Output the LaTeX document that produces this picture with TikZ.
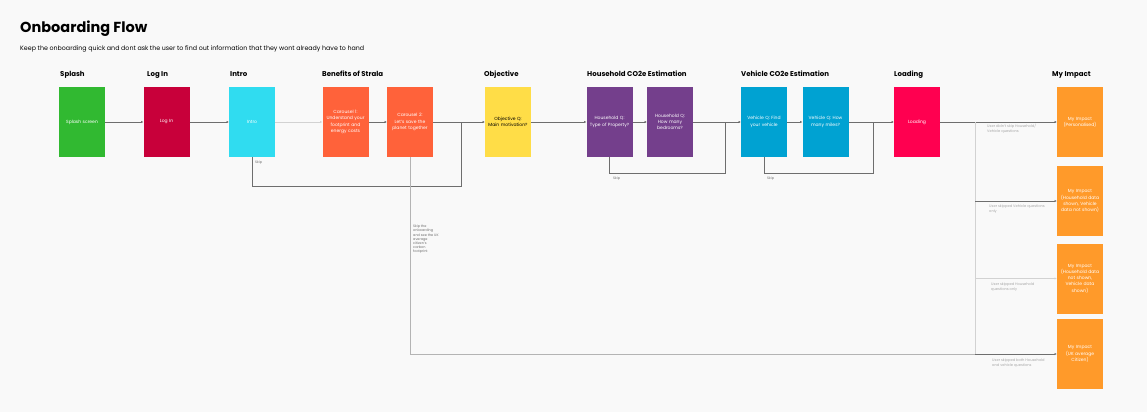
\documentclass[tikz,border=0pt]{standalone}
\usepackage{fontspec}
\setmainfont{Poppins}
\usetikzlibrary{arrows.meta,calc,positioning}
\definecolor{bgc}{HTML}{F9F9F9}
\definecolor{splashc}{HTML}{31B931}
\definecolor{loginc}{HTML}{C8003A}
\definecolor{introc}{HTML}{30DCF0}
\definecolor{benefitc}{HTML}{FF623A}
\definecolor{objc}{HTML}{FFDD47}
\definecolor{housec}{HTML}{743F8C}
\definecolor{vehc}{HTML}{00A2D2}
\definecolor{loadc}{HTML}{FF0050}
\definecolor{impactc}{HTML}{FF9A2A}
\definecolor{darkline}{HTML}{6E6E6E}
\definecolor{lightline}{HTML}{D2D2D2}
\definecolor{midline}{HTML}{B4B4B4}
\definecolor{notec}{HTML}{A8A8A8}
\tikzset{
  card/.style={minimum width=46pt,minimum height=70pt,text width=42pt,align=center,
    inner sep=0pt,text=white,font=\fontsize{4.5}{6.3}\selectfont},
  head/.style={anchor=base west,inner sep=0pt,font=\fontsize{7}{8}\selectfont\bfseries},
  flow/.style={draw=darkline,line width=0.7pt},
  faint/.style={draw=lightline,line width=0.7pt},
  tip/.style={-{Latex[length=2.2pt,width=2.2pt]}},
  note/.style={anchor=north west,inner sep=0pt,align=left,text=notec,font=\fontsize{3.6}{4.6}\selectfont},
  skipnote/.style={anchor=north west,inner sep=0pt,align=left,text=darkline,font=\fontsize{3.4}{4.2}\selectfont}
}
\begin{document}
\begin{tikzpicture}[x=1pt,y=-1pt]
\fill[bgc] (0,0) rectangle (1147,412);
\useasboundingbox (0,0) rectangle (1147,412);
% title
\node[anchor=base west,inner sep=0pt,font=\fontsize{14.5}{17}\selectfont\bfseries] (title) at (20,33) {Onboarding Flow};
\node[anchor=base west,inner sep=0pt,font=\fontsize{6.3}{8}\selectfont] (subtitle) at (20,50) {Keep the onboarding quick and dont ask the user to find out information that they wont already have to hand};
% section headers
\node[head] (hsplash) at (60,77) {Splash};
\node[head] (hlogin) at (147,77) {Log In};
\node[head] (hintro) at (230,77) {Intro};
\node[head] (hbenefit) at (322,77) {Benefits of Strala};
\node[head] (hobj) at (484,77) {Objective};
\node[head] (hhouse) at (587,77) {Household CO2e Estimation};
\node[head] (hveh) at (741,77) {Vehicle CO2e Estimation};
\node[head] (hload) at (894,77) {Loading};
\node[head] (himpact) at (1052,77) {My Impact};
% screens
\node[card,fill=splashc] (splash) at (82,122) {Splash screen};
\node[card,fill=loginc] (login) at (166.5,122) {Log In};
\node[card,fill=introc] (intro) at (252,122) {Intro};
\node[card,fill=benefitc] (car1) at (345.5,122) {Carousel 1:\\Understand your\\footprint and\\energy costs};
\node[card,fill=benefitc] (car2) at (410,122) {Carousel 2:\\Let's save the\\planet together};
\node[card,fill=objc,text=black] (obj) at (508,122) {Objective Q:\\Main motivation?};
\node[card,fill=housec] (house1) at (609.5,122) {Household Q:\\Type of Property?};
\node[card,fill=housec] (house2) at (670,122) {Household Q:\\How many\\bedrooms?};
\node[card,fill=vehc] (veh1) at (764,122) {Vehicle Q: Find\\your vehicle};
\node[card,fill=vehc] (veh2) at (825.5,122) {Vehicle Q: How\\many miles?};
\node[card,fill=loadc] (load) at (917,122) {Loading};
\node[card,fill=impactc] (impact1) at (1080,122) {My Impact\\(Personalised)};
\node[card,fill=impactc] (impact2) at (1080,201) {My Impact\\(Household data\\shown, Vehicle\\data not shown)};
\node[card,fill=impactc] (impact3) at (1080,278.5) {My Impact\\(Household data\\not shown,\\Vehicle data\\shown)};
\node[card,fill=impactc] (impact4) at (1080,354) {My Impact\\(UK average\\Citizen)};
% junctions
\coordinate (skipintro) at (461,186);
\coordinate (skiphouse) at (725,173);
\coordinate (skipveh) at (873,173);
\coordinate (fork) at (975,122);
\coordinate (forkend) at (975,354);
% main flow
\path[tip,flow]
(splash) edge (login)
(login) edge (intro)
(car1) edge (car2)
(car2) edge (obj)
(obj) edge (house1)
(house1) edge (house2)
(house2) edge (veh1)
(veh1) edge (veh2)
(veh2) edge (load)
(load) edge (impact1);
\draw[tip,faint] (intro) -- (car1);
% skips
\draw[flow] (intro.south) -- (intro.south |- skipintro) -- (skipintro) -- (skipintro |- obj);
\draw[flow] (house1.south) -- (house1.south |- skiphouse) -- (skiphouse) -- (skiphouse |- house2);
\draw[flow] (veh1.south) -- (veh1.south |- skipveh) -- (skipveh) -- (skipveh |- load);
\draw[draw=midline,line width=0.7pt] (car2.south) -- (car2.south |- forkend) -- (forkend);
\draw[faint] (fork) -- (forkend);
\draw[tip,flow] (fork |- impact2) -- (impact2);
\draw[tip,faint] (fork |- impact3) -- (impact3);
\draw[tip,flow] (forkend) -- (impact4);
% notes
\node[skipnote] (nskip1) at (255,161) {Skip};
\node[skipnote] (nskip2) at (613,177) {Skip};
\node[skipnote] (nskip3) at (767,177) {Skip};
\node[skipnote] (nskipall) at (413,225) {Skip the\\onboarding\\and see the UK\\average\\citizen's\\carbon\\footprint};
\node[note] (nimpact1) at (987,124) {User didn't skip Household/\\Vehicle questions};
\node[note] (nimpact2) at (989,205) {User skipped Vehicle questions\\only};
\node[note] (nimpact3) at (991,283) {User skipped Household\\questions only};
\node[note] (nimpact4) at (992,359) {User skipped both Household\\and vehicle questions};
\end{tikzpicture}
\end{document}
